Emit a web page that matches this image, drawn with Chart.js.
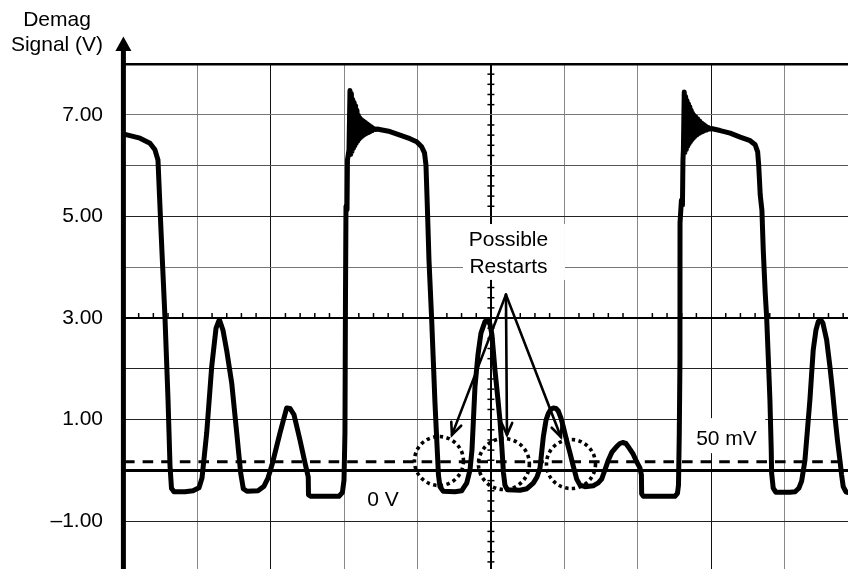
<!DOCTYPE html>
<html>
<head>
<meta charset="utf-8">
<script src="https://cdn.jsdelivr.net/npm/chart.js@4/dist/chart.umd.min.js"></script>
<style>
html,body{margin:0;padding:0;background:#fff;}
#wrap{width:848px;height:569px;position:relative;}
canvas{display:block;}
</style>
</head>
<body>
<div id="wrap"><canvas id="c" width="848" height="569"></canvas></div>
<script>
// ---------- data (time in scope divisions, signal in volts) ----------
const timeDiv = [
  0.000,0.218,0.354,0.422,0.463,0.504,0.559,0.600,0.627,0.647,0.681,0.831,0.940,1.022,1.063,1.127,1.195,1.254,1.299,1.349,
  1.403,1.468,1.536,1.590,1.626,1.676,1.826,1.908,1.962,2.017,2.126,2.217,2.262,2.316,2.398,2.466,2.511,2.514,2.548,2.929,
  2.977,2.998,3.011,3.018,3.025,3.039,3.045,3.066,
  3.0795,3.0890,3.0985,3.1081,3.1176,3.1271,3.1367,3.1462,3.1558,3.1653,3.1748,3.1844,3.1939,3.2035,3.2130,3.2225,
  3.2361,3.2497,3.2634,3.2770,3.2907,3.3043,3.3179,3.3315,3.3452,3.3588,3.3724,3.3861,3.4065,3.4269,3.4473,
  3.624,3.761,3.897,3.988,4.056,4.095,4.115,4.135,4.156,4.193,4.238,4.272,4.285,4.306,4.351,4.510,4.601,4.670,4.715,4.742,
  4.783,4.823,4.864,4.919,4.950,4.987,5.014,5.055,5.096,5.123,5.150,5.171,5.191,5.225,5.396,5.491,5.577,5.628,5.669,5.714,
  5.751,5.782,5.819,5.851,5.887,5.918,5.955,5.986,6.030,6.078,6.125,6.169,6.214,6.282,6.395,6.459,6.509,6.554,6.599,6.649,
  6.713,6.758,6.795,6.840,6.894,6.939,6.986,7.031,7.051,7.054,7.078,7.303,7.507,7.542,7.556,7.567,7.576,7.577,7.596,7.610,
  7.617,7.623,
  7.6346,7.6441,7.6536,7.6632,7.6727,7.6823,7.6918,7.7013,7.7109,7.7204,7.7300,7.7395,7.7490,7.7586,7.7681,7.7776,
  7.7913,7.8049,7.8185,7.8321,7.8458,7.8594,7.8730,7.8866,7.9003,7.9139,7.9275,7.9411,7.9616,7.9820,8.0025,
  8.124,8.260,8.397,8.533,8.601,8.635,8.649,8.670,8.693,8.711,8.738,8.757,8.781,8.802,8.820,8.825,8.847,8.884,9.075,9.143,
  9.197,9.234,9.259,9.279,9.313,9.347,9.392,9.429,9.461,9.493,9.524,9.575,9.620,9.654,9.688,9.722,9.756,9.779,9.801,9.838,
  9.879
];
const demagV = [
  6.62,6.54,6.44,6.31,6.11,4.73,2.99,1.39,0.09,-0.35,-0.42,-0.42,-0.40,-0.34,-0.15,0.74,2.04,2.80,2.97,2.76,
  2.33,1.72,0.74,-0.05,-0.36,-0.41,-0.40,-0.31,-0.15,0.11,0.74,1.23,1.22,1.10,0.60,0.15,-0.13,-0.48,-0.51,-0.51,
  -0.43,-0.19,0.74,3.35,5.20,5.13,6.11,6.31,
  7.48,6.22,7.42,6.28,7.30,6.34,7.24,6.39,7.18,6.44,7.09,6.48,6.99,6.52,6.94,6.55,
  6.91,6.58,6.88,6.61,6.85,6.63,6.82,6.65,6.79,6.67,6.76,6.69,6.73,6.71,6.72,
  6.67,6.60,6.53,6.47,6.37,6.25,6.01,5.13,4.14,2.96,1.32,0.30,-0.09,-0.32,-0.41,-0.42,-0.40,-0.25,0.01,0.40,
  1.65,2.27,2.70,2.93,2.97,2.88,2.67,1.98,1.39,0.99,0.44,-0.05,-0.29,-0.38,-0.39,-0.36,-0.25,-0.13,0.05,0.66,
  0.99,1.12,1.21,1.23,1.22,1.17,1.03,0.86,0.60,0.34,0.07,-0.17,-0.29,-0.32,-0.30,-0.25,-0.17,0.01,0.20,0.36,
  0.47,0.53,0.55,0.53,0.42,0.32,0.17,0.05,-0.09,-0.46,-0.51,-0.51,-0.51,-0.45,-0.29,0.73,2.17,4.87,5.32,5.22,
  6.11,6.31,
  7.45,6.26,7.36,6.32,7.28,6.38,7.22,6.43,7.16,6.47,7.09,6.51,7.03,6.54,6.99,6.57,
  6.96,6.60,6.92,6.63,6.88,6.65,6.84,6.67,6.81,6.69,6.78,6.70,6.75,6.72,6.73,
  6.69,6.64,6.56,6.49,6.41,6.27,6.01,5.42,5.12,4.34,3.49,3.03,2.17,1.39,0.40,-0.05,-0.35,-0.43,-0.43,-0.42,
  -0.35,-0.21,0.01,0.20,0.79,1.39,2.37,2.76,2.93,2.97,2.90,2.57,2.04,1.58,1.06,0.60,0.20,-0.09,-0.32,-0.42,
  -0.44
];
const zeroLineV = [0, 0];
const thresholdV = [0.17, 0.17];
const lineSpanDiv = [0, 9.9];
const yTickValues = [7, 5, 3, 1, -1];
const yTickLabels = ['7.00', '5.00', '3.00', '1.00', '\u20131.00'];
const xGridValues = [0,1,2,3,4,5,6,7,8,9];
const yGridValues = [-1,0,1,2,3,4,5,6,7,8];
const axisTitle = ['Demag', 'Signal (V)'];
const restartLabel = ['Possible', 'Restarts'];
const thresholdLabel = '50 mV';
const zeroLabel = '0 V';

// ---------- annotation placement (data coordinates) ----------
const restartCircles = [
  {x: 4.292, y: 0.185, r: 0.334},
  {x: 5.177, y: 0.126, r: 0.347},
  {x: 6.091, y: 0.126, r: 0.334}
];
const arrowApex = {x: 5.205, y: 3.46};
const arrowTips = [{x: 4.469, y: 0.70}, {x: 5.219, y: 0.70}, {x: 5.954, y: 0.66}];
const restartBox = {x0: 4.619, x1: 6.009, y0: 3.75, y1: 4.85, tx: 5.240, ty: [4.53, 4.01]};
const thresholdBox = {x0: 7.535, x1: 8.738, y0: 0.34, y1: 1.03, tx: 8.210, ty: 0.62};
const zeroText = {x: 3.529, y: -0.59};

const FONT = '"Liberation Sans", Arial, Helvetica, sans-serif';
const FSIZE = 21;
const toPts = (xs, ys) => xs.map((x, i) => ({x, y: ys[i]}));

const xGridColor = {0:'#000',1:'#888',2:'#111',3:'#888',4:'#888',5:'#000',6:'#888',7:'#888',8:'#111',9:'#888'};
const yGridColor = {'-1':'#222','0':'#000','1':'#222','2':'#222','3':'#000','4':'#777','5':'#222','6':'#555','7':'#777','8':'#000'};

const decor = {
  id: 'decor',
  beforeDatasetsDraw(chart) {
    const ctx = chart.ctx, xs = chart.scales.x, ys = chart.scales.y, a = chart.chartArea;
    ctx.save();
    // minor graticule ticks on centre lines
    ctx.strokeStyle = '#000';
    ctx.lineWidth = 1.5;
    const cy = ys.getPixelForValue(3);
    for (let k = 1; k < 50; k++) {
      if (k % 5 === 0) continue;
      const p = xs.getPixelForValue(k * 0.2);
      if (p > a.right) break;
      ctx.beginPath(); ctx.moveTo(p, cy); ctx.lineTo(p, cy - 5); ctx.stroke();
    }
    const cx = xs.getPixelForValue(5);
    for (let k = -9; k < 40; k++) {
      if (k % 5 === 0) continue;
      const p = ys.getPixelForValue(k * 0.2);
      if (p < a.top || p > a.bottom) continue;
      ctx.beginPath(); ctx.moveTo(cx - 3.5, p); ctx.lineTo(cx + 3.5, p); ctx.stroke();
    }
    // label backgrounds
    ctx.fillStyle = '#fff';
    [restartBox, thresholdBox].forEach(b => {
      const x0 = xs.getPixelForValue(b.x0), x1 = xs.getPixelForValue(b.x1);
      const y0 = ys.getPixelForValue(b.y1), y1 = ys.getPixelForValue(b.y0);
      ctx.fillRect(x0, y0, x1 - x0, y1 - y0);
    });
    // labels
    ctx.fillStyle = '#000';
    ctx.font = FSIZE + 'px ' + FONT;
    ctx.textAlign = 'center';
    ctx.textBaseline = 'middle';
    restartLabel.forEach((t, i) => ctx.fillText(t, xs.getPixelForValue(restartBox.tx), ys.getPixelForValue(restartBox.ty[i])));
    ctx.fillText(thresholdLabel, xs.getPixelForValue(thresholdBox.tx), ys.getPixelForValue(thresholdBox.ty));
    ctx.fillText(zeroLabel, xs.getPixelForValue(zeroText.x), ys.getPixelForValue(zeroText.y));
    ctx.restore();
  },
  afterDatasetsDraw(chart) {
    const ctx = chart.ctx, xs = chart.scales.x, ys = chart.scales.y, a = chart.chartArea;
    ctx.save();
    // dotted circles
    ctx.strokeStyle = '#000';
    ctx.lineWidth = 3.6;
    ctx.setLineDash([3.4, 3.4]);
    restartCircles.forEach(c => {
      const px = xs.getPixelForValue(c.x), py = ys.getPixelForValue(c.y);
      const r = xs.getPixelForValue(c.x + c.r) - px;
      ctx.beginPath(); ctx.arc(px, py, r, 0, Math.PI * 2); ctx.stroke();
    });
    ctx.setLineDash([]);
    // arrows
    ctx.lineWidth = 2.6;
    ctx.lineCap = 'round';
    const ax = xs.getPixelForValue(arrowApex.x), ay = ys.getPixelForValue(arrowApex.y);
    arrowTips.forEach(t => {
      const tx = xs.getPixelForValue(t.x), ty = ys.getPixelForValue(t.y);
      ctx.beginPath(); ctx.moveTo(ax, ay); ctx.lineTo(tx, ty); ctx.stroke();
      const ang = Math.atan2(ay - ty, ax - tx);
      const L = 13, h = 0.42;
      ctx.beginPath();
      ctx.moveTo(tx + L * Math.cos(ang + h), ty + L * Math.sin(ang + h));
      ctx.lineTo(tx, ty);
      ctx.lineTo(tx + L * Math.cos(ang - h), ty + L * Math.sin(ang - h));
      ctx.stroke();
    });
    // vertical axis with arrow head
    const axX = a.left - 0.6;
    ctx.fillStyle = '#000';
    ctx.fillRect(axX - 2.5, 49, 5, chart.height - 49);
    ctx.beginPath();
    ctx.moveTo(axX, 36.5); ctx.lineTo(axX - 8, 51); ctx.lineTo(axX + 8, 51); ctx.closePath(); ctx.fill();
    // axis title
    ctx.font = FSIZE + 'px ' + FONT;
    ctx.textAlign = 'center';
    ctx.textBaseline = 'middle';
    ctx.fillText(axisTitle[0], 57, 20);
    ctx.fillText(axisTitle[1], 57, 45);
    ctx.restore();
  }
};

new Chart(document.getElementById('c'), {
  type: 'line',
  data: {
    datasets: [
      {data: toPts(timeDiv, demagV), borderColor: '#000', borderWidth: 5, pointRadius: 0,
       borderJoinStyle: 'round', borderCapStyle: 'round', tension: 0.0001, order: 0},
      {data: toPts(lineSpanDiv, zeroLineV), borderColor: '#000', borderWidth: 3, pointRadius: 0, order: 1},
      {data: toPts(lineSpanDiv, thresholdV), borderColor: '#000', borderWidth: 3, borderDash: [10.6, 8],
       pointRadius: 0, order: 2}
    ]
  },
  options: {
    responsive: false,
    animation: false,
    devicePixelRatio: 1,
    layout: {padding: {top: 64, left: 0, right: 0, bottom: 0}},
    plugins: {legend: {display: false}, tooltip: {enabled: false}, title: {display: false}},
    elements: {point: {radius: 0}},
    scales: {
      x: {
        type: 'linear', min: 0, max: 9.866,
        afterBuildTicks: s => { s.ticks = xGridValues.map(v => ({value: v})); },
        afterFit: s => { s.height = 0; s.paddingLeft = 0; s.paddingRight = 0; },
        grid: {
          drawTicks: false,
          color: c => xGridColor[c.tick ? c.tick.value : 0] || '#666',
          lineWidth: c => (c.tick && c.tick.value === 5) ? 2 : 1
        },
        border: {display: false},
        ticks: {display: false}
      },
      y: {
        type: 'linear', min: -1.94, max: 8,
        afterBuildTicks: s => { s.ticks = yGridValues.map(v => ({value: v})); },
        afterFit: s => { s.width = 124; s.paddingTop = 0; s.paddingBottom = 0; },
        grid: {
          drawTicks: false,
          color: c => yGridColor[String(c.tick ? c.tick.value : 0)] || '#666',
          lineWidth: c => {
            const v = c.tick ? c.tick.value : 0;
            return v === 8 ? 2.5 : (v === 3 ? 2 : 1);
          }
        },
        border: {display: false},
        ticks: {
          padding: 21, color: '#000', autoSkip: false,
          font: {family: FONT, size: FSIZE},
          callback: v => { const i = yTickValues.indexOf(v); return i < 0 ? '' : yTickLabels[i]; }
        }
      }
    }
  },
  plugins: [decor]
});
</script>
</body>
</html>
